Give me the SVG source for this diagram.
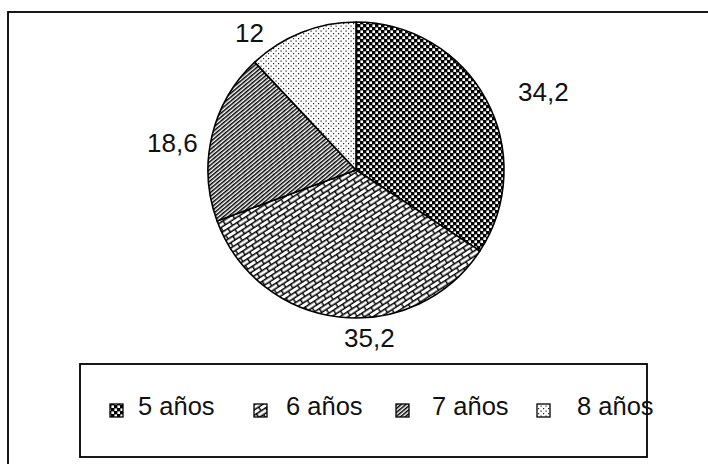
<svg xmlns="http://www.w3.org/2000/svg" width="708" height="464" viewBox="0 0 708 464">
<style>
  text { font-family: "Liberation Sans", Arial, sans-serif; fill: #111; }
  .lbl { font-size: 26px; }
  .leg { font-size: 25.5px; }
  .sl { stroke: #000; stroke-width: 1.6; stroke-linejoin: round; }
  .sw { stroke: #000; stroke-width: 1.3; }
</style>
<defs>
  <pattern id="pChk" width="6" height="6" patternUnits="userSpaceOnUse">
    <rect width="6" height="6" fill="#000"/>
    <rect x="0.4" y="0.4" width="2.6" height="2.6" fill="#fff"/>
    <rect x="3.4" y="3.4" width="2.6" height="2.6" fill="#fff"/>
  </pattern>
  <pattern id="pBrick" width="11" height="9" patternUnits="userSpaceOnUse" patternTransform="rotate(-33)">
    <rect width="11" height="9" fill="#fff"/>
    <path d="M0,0.7 H11 M0,5.2 H11 M0.7,0.7 V5.2 M6.2,5.2 V9.7" stroke="#000" stroke-width="1.4" fill="none"/>
  </pattern>
  <pattern id="pDiag" width="3" height="10" patternUnits="userSpaceOnUse" patternTransform="rotate(50)">
    <rect width="3" height="10" fill="#fff"/>
    <rect x="0" y="0" width="1.5" height="10" fill="#000"/>
  </pattern>
  <pattern id="pDot" width="5" height="5" patternUnits="userSpaceOnUse">
    <rect width="5" height="5" fill="#fff"/>
    <rect x="0.5" y="0.5" width="1.2" height="1.2" fill="#222"/>
    <rect x="3" y="3" width="1.2" height="1.2" fill="#222"/>
  </pattern>
</defs>
<rect width="708" height="464" fill="#fff"/>
<rect id="frame" x="8" y="12" width="720" height="470" fill="none" stroke="#000" stroke-width="1.8"/>

<g id="pie">
  <path id="s5" class="sl" fill="url(#pChk)" d="M356,170 L356,22 A148,148 0 0 1 479.95,250.87 Z"/>
  <path id="s6" class="sl" fill="url(#pBrick)" d="M356,170 L479.95,250.87 A148,148 0 0 1 217.07,221.01 Z"/>
  <path id="s7" class="sl" fill="url(#pDiag)" d="M356,170 L217.07,221.01 A148,148 0 0 1 254.7,62.1 Z"/>
  <path id="s8" class="sl" fill="url(#pDot)" d="M356,170 L254.7,62.1 A148,148 0 0 1 356,22 Z"/>
</g>

<g id="labels">
  <text class="lbl" x="235" y="42">12</text>
  <text class="lbl" x="518" y="101">34,2</text>
  <text class="lbl" x="147" y="152">18,6</text>
  <text class="lbl" x="344" y="347">35,2</text>
</g>

<g id="legend">
  <rect x="80" y="364" width="567" height="93" fill="none" stroke="#000" stroke-width="1.8"/>
  <g id="leg5">
    <rect class="sw" x="110" y="404" width="13" height="13" fill="url(#pChk)"/>
    <text class="leg" x="138" y="415">5 años</text>
  </g>
  <g id="leg6">
    <rect class="sw" x="254" y="404" width="13" height="13" fill="url(#pBrick)"/>
    <text class="leg" x="286" y="415">6 años</text>
  </g>
  <g id="leg7">
    <rect class="sw" x="396" y="404" width="13" height="13" fill="url(#pDiag)"/>
    <text class="leg" x="432" y="415">7 años</text>
  </g>
  <g id="leg8">
    <rect class="sw" x="537" y="404" width="13" height="13" fill="url(#pDot)"/>
    <text class="leg" x="577" y="415">8 años</text>
  </g>
</g>
</svg>
